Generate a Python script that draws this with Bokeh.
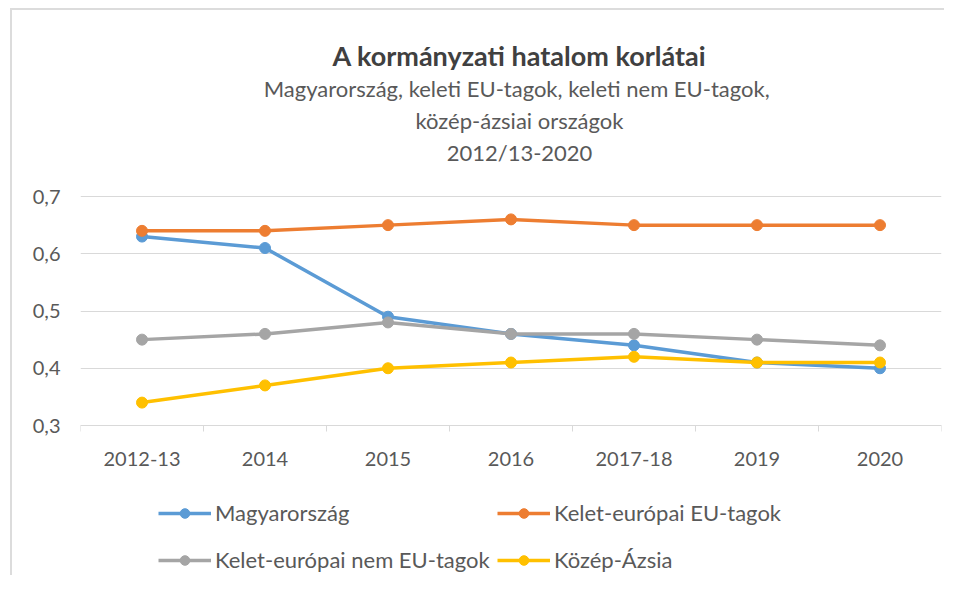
from bokeh.plotting import figure
from bokeh.models import (Range1d, FixedTicker, Label, Legend, LegendItem)
from bokeh.embed import file_html
from bokeh.resources import INLINE

# ---- data ----
categories = ["2012-13", "2014", "2015", "2016", "2017-18", "2019", "2020"]
magyarorszag = [0.63, 0.61, 0.49, 0.46, 0.44, 0.41, 0.40]
kelet_eu = [0.64, 0.64, 0.65, 0.66, 0.65, 0.65, 0.65]
kelet_nem_eu = [0.45, 0.46, 0.48, 0.46, 0.46, 0.45, 0.44]
kozep_azsia = [0.34, 0.37, 0.40, 0.41, 0.42, 0.41, 0.41]
series_names = ["Magyarország", "Kelet-európai EU-tagok",
                "Kelet-európai nem EU-tagok", "Közép-Ázsia"]
y_ticks = [0.3, 0.4, 0.5, 0.6, 0.7]
y_tick_labels = ["0,3", "0,4", "0,5", "0,6", "0,7"]
title_text = "A kormányzati hatalom korlátai"
subtitle_lines = ["Magyarország, keleti EU-tagok, keleti  nem EU-tagok,",
                  "közép-ázsiai országok", "2012/13-2020"]

colors = ["#5B9BD5", "#ED7D31", "#A5A5A5", "#FFC000"]
FONT = "Lato"
TXT = "#595959"

W, H = 944, 575
FL, FR = 80, 941          # plot-area left/right (canvas px)
PT, PB = 196, 425         # canvas px of top / bottom y tick
ppu = (PB - PT) / (y_ticks[-1] - y_ticks[0])   # px per y unit

x = list(range(len(categories)))
p = figure(width=W, height=H, output_backend="svg", toolbar_location=None,
           x_range=Range1d(-0.5, len(categories) - 0.5),
           y_range=Range1d(y_ticks[0] - (H - PB) / ppu, y_ticks[-1] + PT / ppu),
           min_border_left=FL, min_border_right=W - FR,
           min_border_top=0, min_border_bottom=0)
p.title_location = None
p.outline_line_color = None
p.background_fill_alpha = 0
p.border_fill_alpha = 0
# thin light-grey chart border (top and left edges, as in the reference)
p.styles = {
    "background-color": "white",
    "background-image": "linear-gradient(#DCDCDC, #DCDCDC), linear-gradient(#DCDCDC, #DCDCDC)",
    "background-size": "2px 100%, 100% 2px",
    "background-position": "10px 8px, 10px 8px",
    "background-repeat": "no-repeat",
}

# axes
xa = p.xaxis[0]
xa.fixed_location = y_ticks[0]
xa.ticker = FixedTicker(ticks=x, minor_ticks=[i - 0.5 for i in range(len(categories) + 1)])
xa.major_label_overrides = {i: c for i, c in zip(x, categories)}
xa.axis_line_color = "#D9D9D9"
xa.major_tick_line_color = None
xa.major_tick_out = 0
xa.major_tick_in = 0
xa.minor_tick_line_color = "#D9D9D9"
xa.minor_tick_out = 6
xa.minor_tick_in = 0
xa.major_label_standoff = 20
xa.major_label_text_font = FONT
xa.major_label_text_font_size = "20px"
xa.major_label_text_color = TXT

ya = p.yaxis[0]
ya.ticker = FixedTicker(ticks=y_ticks)
ya.major_label_overrides = {t: l for t, l in zip(y_ticks, y_tick_labels)}
ya.axis_line_color = None
ya.major_tick_line_color = None
ya.minor_tick_line_color = None
ya.major_tick_out = 0
ya.major_label_standoff = 20
ya.major_label_text_font = FONT
ya.major_label_text_font_size = "20px"
ya.major_label_text_color = TXT

p.xgrid.grid_line_color = None
p.ygrid.ticker = FixedTicker(ticks=y_ticks)
p.ygrid.grid_line_color = "#D9D9D9"
p.ygrid.grid_line_width = 1

# series
items = []
for vals, col, name in zip([magyarorszag, kelet_eu, kelet_nem_eu, kozep_azsia], colors, series_names):
    lr = p.line(x, vals, line_color=col, line_width=3.5)
    sr = p.scatter(x, vals, size=11, fill_color=col, line_color=col)
    items.append(LegendItem(label=name, renderers=[lr, sr]))

# helpers: canvas px -> data coords (for text placement)
def dx(px):
    return -0.5 + (px - FL) / (FR - FL) * len(categories)

def dy(py):
    return y_ticks[-1] + (PT - py) / ppu

cx = dx(519)
p.add_layout(Label(x=cx, y=dy(55), text=title_text, text_font=FONT,
                   text_font_style="bold", text_font_size="27px", text_color="#404040",
                   text_align="center", text_baseline="middle"))
for i, line in enumerate(subtitle_lines):
    p.add_layout(Label(x=cx, y=dy(88 + 32 * i), text=line, text_font=FONT,
                       text_font_size="22px", text_color=TXT,
                       text_align="center", text_baseline="middle"))

# legends (two rows) at the bottom of the plot area
for row, (a, b) in enumerate([(0, 1), (2, 3)]):
    lg = Legend(items=[items[a], items[b]], orientation="horizontal",
                location=(158 - FL, 49 if row == 0 else 2),
                glyph_width=53, glyph_height=24, label_height=24,
                label_width=278, label_standoff=4, spacing=4,
                padding=0, margin=0, border_line_color=None,
                background_fill_alpha=0,
                label_text_font=FONT, label_text_font_size="22px",
                label_text_color=TXT)
    p.add_layout(lg, "center")

open("out.html", "w").write(file_html(p, INLINE))
